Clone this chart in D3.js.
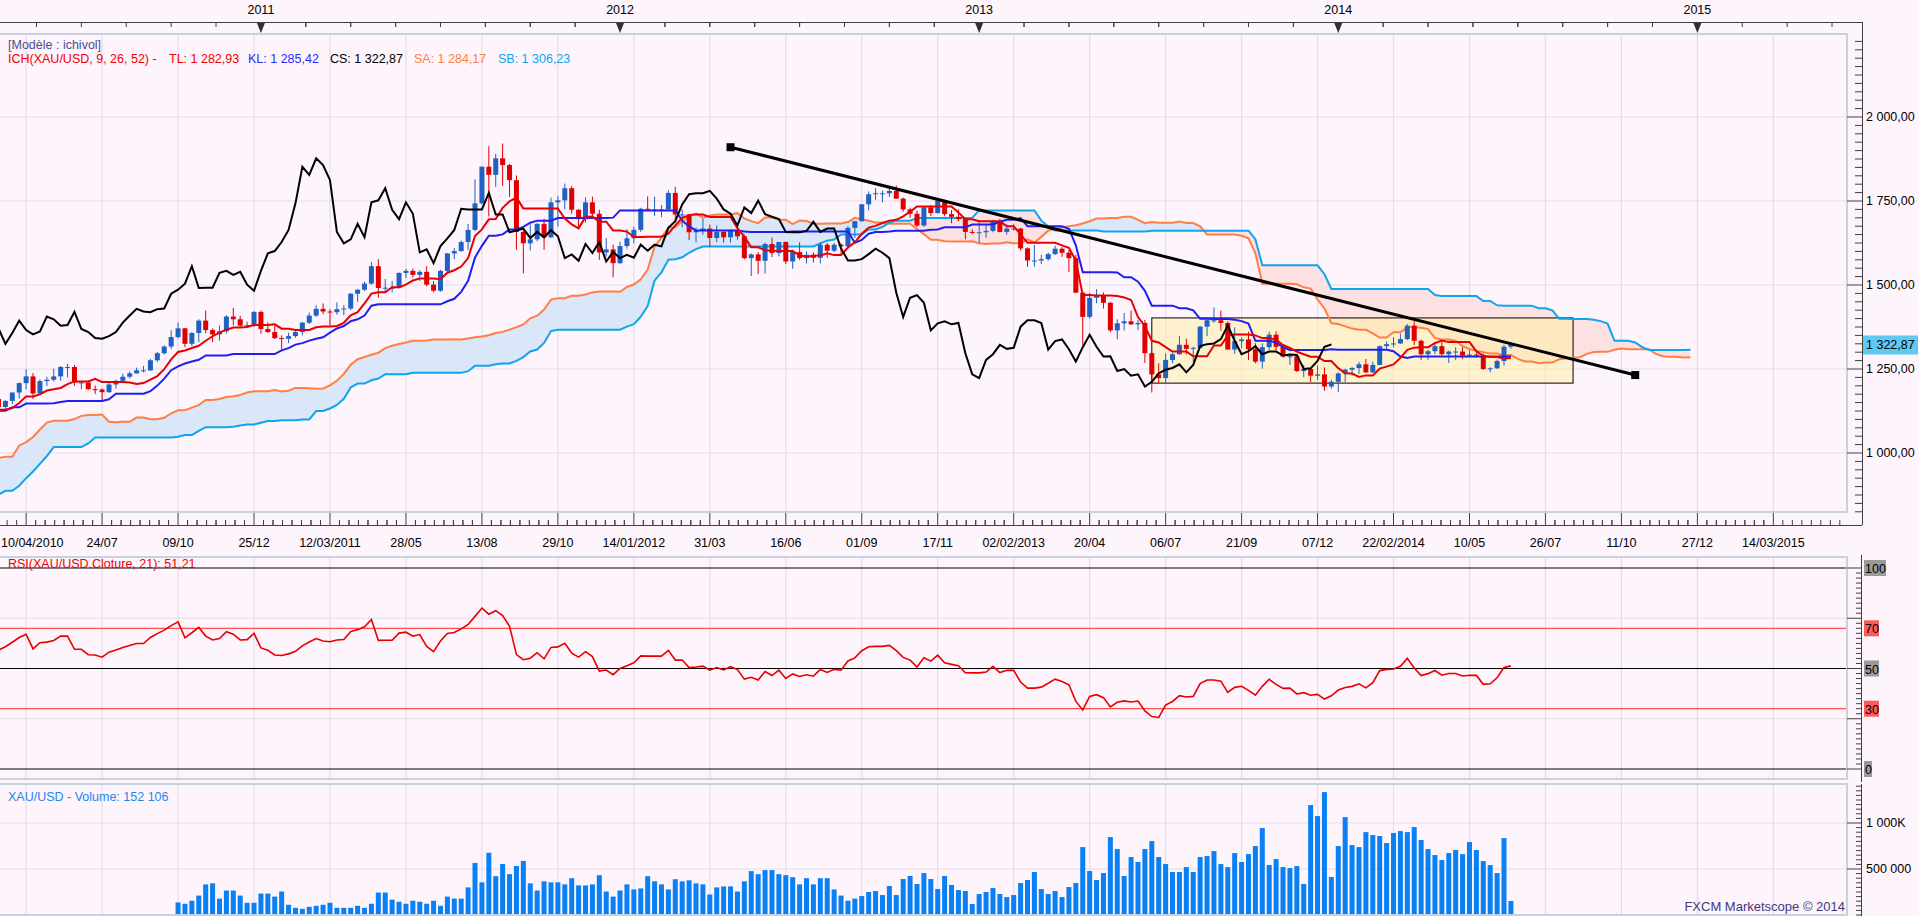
<!DOCTYPE html>
<html>
<head>
<meta charset="utf-8">
<script src="https://cdn.jsdelivr.net/npm/d3@7"></script>
<style>
  html, body { margin: 0; padding: 0; background: #fdf4fc; }
  svg { display: block; font-family: "Liberation Sans", Arial, sans-serif; }
</style>
</head>
<body>
<svg id="chart" width="1919" height="916"></svg>
<script>
// weekly XAU/USD candles [open, high, low, close], first bar 10/04/2010
const candles = [
  // 2010
  [1161,1169,1133,1137],[1137,1157,1128,1155],[1155,1180,1145,1180],[1180,1210,1162,1208],[1208,1249,1190,1228],
  [1228,1238,1161,1177],[1177,1219,1176,1214],[1214,1227,1199,1218],[1218,1251,1213,1228],[1228,1259,1215,1256],
  [1256,1265,1225,1256],[1256,1262,1200,1210],[1210,1214,1190,1210],[1210,1215,1188,1190],[1190,1201,1176,1189],
  [1189,1192,1157,1181],[1181,1211,1179,1204],[1204,1218,1192,1215],[1215,1236,1213,1227],[1227,1243,1222,1237],
  [1237,1254,1237,1246],[1246,1259,1240,1246],[1246,1280,1244,1276],[1276,1301,1271,1297],[1297,1320,1293,1317],
  [1317,1365,1310,1345],[1345,1388,1341,1371],[1371,1372,1315,1325],[1325,1360,1318,1357],[1357,1398,1330,1394],
  [1394,1424,1356,1366],[1366,1371,1330,1353],[1353,1380,1334,1362],[1362,1410,1356,1406],[1406,1432,1380,1398],
  [1398,1408,1375,1379],[1379,1391,1373,1381],[1381,1422,1376,1420],
  // 2011
  [1420,1424,1355,1369],[1369,1389,1357,1360],[1360,1378,1339,1342],[1342,1350,1308,1340],[1340,1358,1327,1348],
  [1348,1366,1343,1360],[1360,1389,1350,1388],[1388,1418,1384,1409],[1409,1440,1405,1429],[1429,1445,1413,1421],
  [1421,1428,1380,1419],[1419,1448,1412,1428],[1428,1440,1410,1430],[1430,1476,1425,1474],[1474,1488,1450,1486],
  [1486,1510,1482,1504],[1504,1569,1501,1556],[1556,1577,1462,1491],[1491,1518,1480,1492],[1492,1512,1478,1492],
  [1492,1537,1490,1536],[1536,1548,1521,1542],[1542,1549,1522,1530],[1530,1544,1512,1539],[1539,1556,1496,1501],
  [1501,1512,1478,1483],[1483,1545,1480,1542],[1542,1595,1538,1594],[1594,1610,1577,1601],[1601,1632,1599,1628],
  [1628,1682,1604,1664],[1664,1814,1660,1743],[1743,1853,1740,1852],[1852,1913,1704,1828],[1828,1890,1792,1877],
  [1877,1921,1795,1857],[1857,1860,1762,1812],[1812,1826,1605,1658],[1658,1668,1535,1624],[1624,1681,1603,1636],
  [1636,1684,1630,1682],[1682,1697,1605,1642],[1642,1760,1640,1746],[1746,1764,1674,1752],[1752,1802,1725,1788],
  [1788,1795,1712,1724],[1724,1725,1669,1696],[1696,1761,1686,1746],[1746,1763,1703,1712],[1712,1724,1575,1597],
  [1597,1640,1585,1606],[1606,1620,1523,1565],
  // 2012
  [1565,1629,1563,1616],[1616,1666,1608,1639],[1639,1673,1624,1664],[1664,1730,1658,1727],[1727,1764,1720,1725],
  [1725,1763,1705,1725],[1725,1738,1702,1725],[1725,1782,1724,1774],[1774,1792,1688,1710],[1710,1725,1672,1710],
  [1710,1712,1634,1657],[1657,1671,1627,1662],[1662,1697,1650,1668],[1668,1680,1613,1640],[1640,1677,1628,1658],
  [1658,1660,1626,1642],[1642,1665,1626,1663],[1663,1675,1635,1645],[1645,1650,1576,1580],[1580,1594,1527,1591],
  [1591,1598,1533,1572],[1572,1626,1534,1622],[1622,1641,1583,1595],[1595,1628,1585,1628],[1628,1630,1562,1570],
  [1570,1605,1548,1598],[1598,1627,1575,1580],[1580,1600,1564,1590],[1590,1597,1567,1581],[1581,1627,1564,1620],
  [1620,1625,1581,1602],[1602,1625,1598,1620],[1620,1624,1592,1615],[1615,1675,1613,1670],[1670,1690,1640,1690],
  [1690,1741,1688,1740],[1740,1778,1722,1770],[1770,1788,1754,1773],[1773,1781,1746,1773],[1773,1791,1762,1780],
  [1780,1796,1756,1757],[1757,1760,1718,1725],[1725,1730,1700,1712],[1712,1721,1672,1677],[1677,1733,1673,1731],
  [1731,1738,1705,1714],[1714,1755,1713,1751],[1751,1754,1705,1711],[1711,1723,1684,1703],[1703,1725,1690,1696],
  [1696,1699,1636,1658],[1658,1666,1651,1657],
  // 2013
  [1657,1693,1625,1657],[1657,1679,1641,1661],[1661,1694,1657,1688],[1688,1697,1657,1658],[1658,1680,1650,1668],
  [1668,1682,1662,1668],[1668,1669,1602,1609],[1609,1612,1554,1573],[1573,1619,1555,1573],[1573,1590,1562,1577],
  [1577,1596,1572,1592],[1592,1617,1589,1608],[1608,1613,1584,1596],[1596,1605,1539,1580],[1580,1590,1476,1477],
  [1477,1480,1321,1405],[1405,1477,1400,1462],[1462,1488,1446,1470],[1470,1478,1430,1447],[1447,1450,1359,1365],
  [1365,1398,1338,1386],[1386,1417,1365,1392],[1392,1424,1381,1383],[1383,1396,1366,1387],[1387,1396,1268,1297],
  [1297,1300,1180,1234],[1234,1267,1207,1223],[1223,1297,1207,1277],[1277,1298,1267,1294],[1294,1348,1292,1322],
  [1322,1340,1293,1310],[1310,1316,1272,1313],[1313,1378,1310,1376],[1376,1396,1348,1395],[1395,1433,1388,1395],
  [1395,1424,1364,1387],[1387,1392,1307,1308],[1308,1374,1295,1333],[1333,1344,1311,1338],[1338,1361,1277,1309],
  [1309,1327,1267,1272],[1272,1326,1251,1315],[1315,1361,1307,1352],[1352,1362,1305,1316],[1316,1323,1284,1287],
  [1287,1293,1262,1288],[1288,1291,1241,1244],[1244,1262,1226,1250],[1250,1254,1211,1230],[1230,1261,1217,1234],
  [1234,1255,1185,1198],[1198,1218,1191,1212],
  // 2014
  [1212,1240,1182,1237],[1237,1251,1211,1248],[1248,1256,1230,1253],[1253,1271,1235,1264],[1264,1280,1238,1240],
  [1240,1272,1238,1262],[1262,1320,1262,1318],[1318,1332,1308,1324],[1324,1345,1315,1326],[1326,1355,1325,1339],
  [1339,1384,1336,1379],[1379,1392,1321,1334],[1334,1337,1277,1294],[1294,1307,1277,1303],[1303,1331,1294,1318],
  [1318,1331,1291,1294],[1294,1305,1268,1302],[1302,1315,1277,1302],[1302,1315,1280,1290],[1290,1306,1286,1293],
  [1293,1300,1284,1292],[1292,1296,1247,1250],[1250,1255,1240,1252],[1252,1278,1250,1274],[1274,1322,1260,1316],
  [1316,1326,1310,1322.87]
];

// weekly [high, low, close] before the first bar (11/10/2008 .. 03/04/2010), feeds the indicators
const history = [
  [860,782,785],[800,681,734],[775,710,719],[768,705,742],[759,705,745],[800,730,796],[837,790,813],[815,740,752],
  [830,755,823],[880,820,840],[855,830,845],[885,843,879],[880,840,853],[860,808,838],[900,830,895],[935,880,920],
  [925,890,914],[950,905,944],[1007,940,1002],[1002,935,942],[950,910,939],[945,890,929],[960,905,955],[960,915,922],
  [930,880,898],[900,865,870],[895,865,870],[915,870,912],[915,880,888],[920,880,915],[935,910,930],[960,925,956],
  [985,945,979],[990,950,961],[960,930,942],[945,920,920],[945,918,940],[945,920,930],[935,905,913],[940,915,937],
  [960,935,953],[960,925,952],[970,950,958],[958,935,946],[950,930,943],[960,940,954],[1000,935,996],[1012,990,1007],
  [1025,995,1003],[1015,985,992],[1020,985,1003],[1063,1003,1050],[1070,1040,1052],[1070,1040,1057],[1050,1025,1045],
  [1100,1045,1095],[1120,1100,1118],[1150,1110,1145],[1195,1140,1175],[1227,1160,1162],[1170,1115,1118],
  [1150,1095,1105],[1110,1073,1106],[1110,1085,1096],[1140,1092,1137],[1165,1120,1130],[1140,1085,1090],
  [1105,1076,1084],[1125,1045,1052],[1093,1055,1092],[1126,1092,1107],[1120,1088,1118],[1145,1115,1134],
  [1138,1095,1103],[1135,1098,1106],[1110,1088,1104],[1130,1100,1126],[1166,1123,1161]
];

// weekly volume in thousands (no volume reported for the first 26 weeks)
const volume = [
  null,null,null,null,null,null,null,null,null,null,null,null,null,null,null,null,null,null,null,null,null,null,null,null,null,null,
  137,122,155,211,333,344,178,266,266,211,133,133,233,233,200,255,111,78,67,89,
  100,111,133,78,78,78,100,78,122,244,244,167,144,122,155,144,122,155,100,200,
  178,178,300,566,355,677,422,555,444,533,588,344,266,366,355,355,333,400,322,322,
  333,433,255,200,266,333,278,289,422,366,333,278,389,366,377,344,333,222,300,311,
  311,255,366,477,444,488,488,444,433,411,333,400,333,400,400,278,211,155,178,
  206,250,261,217,315,217,391,424,337,456,391,282,424,326,271,261,119,228,250,293,
  228,195,217,348,380,467,282,228,261,195,304,348,738,478,380,456,847,717,424,630,
  576,717,804,630,554,467,467,521,467,630,641,695,554,521,673,576,662,749,945,543,
  608,521,510,532,337,1195,1075,1336,413,749,1064,760,738,901,869,858,782,891,912,901,
  956,815,717,652,597,673,706,662,793,706,586,543,456,836,152
];

const dateLabels = ["10/04/2010","24/07","09/10","25/12","12/03/2011","28/05","13/08","29/10","14/01/2012",
  "31/03","16/06","01/09","17/11","02/02/2013","20/04","06/07","21/09","07/12","22/02/2014","10/05","26/07",
  "11/10","27/12","14/03/2015"];
const yearLabels = ["2011","2012","2013","2014","2015"];
const yearWeeks = [38, 90, 142, 194, 246];
const priceTicks = [1000, 1250, 1500, 1750, 2000];
const rsiLevels = [100, 70, 50, 30, 0];

// drawn annotations: trend line and consolidation box (week index, price)
const trendPoints = [[106, 1910], [237, 1232]];
const boxWeeks = [167, 228];
const boxPrices = [1208, 1402];
const lastPrice = 1322.87;

// ---------------------------------------------------------------
const svg = d3.select('#chart');
const plotR = 1847, axisX = 1862;
const P1 = {top: 34, bottom: 512};
const P2 = {top: 557, bottom: 779};
const P3 = {top: 784, bottom: 915};
const fs = 12.5;

const x = d3.scaleLinear().domain([0, 257]).range([-1.5, -1.5 + 257 * 6.906]);
const yP = d3.scaleLinear().domain([1000, 2000]).range([453, 117]);
const yR = d3.scaleLinear().domain([0, 100]).range([769, 568]);
const yV = d3.scaleLinear().domain([0, 1000]).range([915, 823]);

const gridCol = '#e3dee6', frameCol = '#c8d2de', axisCol = '#404040';
const gridWeeks = d3.range(4, 258, 11);

// indicators
const H = history.length;
const hi = history.map(d => d[0]).concat(candles.map(d => d[1]));
const lo = history.map(d => d[1]).concat(candles.map(d => d[2]));
const cl = history.map(d => d[2]).concat(candles.map(d => d[3]));
const mid = (j, n) => (d3.max(hi.slice(j - n + 1, j + 1)) + d3.min(lo.slice(j - n + 1, j + 1))) / 2;

const tenkan = candles.map((d, i) => ({i, v: mid(i + H, 9)}));
const kijun = candles.map((d, i) => ({i, v: mid(i + H, 26)}));
const cloud = d3.range(-26, candles.length).map(i => {
  const j = i + H;
  return {i: i + 26, a: (mid(j, 9) + mid(j, 26)) / 2, b: mid(j, 52)};
});
const chikou = candles.map((d, i) => ({i: i - 26, v: d[3]})).filter(d => d.i >= -1);

const rsi = [];
(function () {
  const n = 21;
  let ag = 0, al = 0;
  for (let k = 1; k <= n; k++) {
    const df = cl[k] - cl[k - 1];
    if (df > 0) ag += df; else al -= df;
  }
  ag /= n; al /= n;
  for (let k = n + 1; k < cl.length; k++) {
    const df = cl[k] - cl[k - 1];
    ag = (ag * (n - 1) + Math.max(df, 0)) / n;
    al = (al * (n - 1) + Math.max(-df, 0)) / n;
    if (k >= H) rsi.push({i: k - H, v: 100 - 100 / (1 + ag / al)});
  }
})();

// ---------------------------------------------------------------
const defs = svg.append('defs');
function clipRect(id, p) {
  defs.append('clipPath').attr('id', id).append('rect')
    .attr('x', 0).attr('y', p.top).attr('width', plotR).attr('height', p.bottom - p.top);
}
clipRect('c1', P1); clipRect('c2', P2); clipRect('c3', P3);

// grids
[P1, P2, P3].forEach(p => {
  svg.append('g').selectAll('line').data(gridWeeks.filter(w => x(w) < plotR)).join('line')
    .attr('x1', d => x(d)).attr('x2', d => x(d))
    .attr('y1', p.top).attr('y2', p.bottom)
    .attr('stroke', gridCol).attr('stroke-width', 1.2);
});
svg.append('g').selectAll('line').data(priceTicks).join('line')
  .attr('x1', 0).attr('x2', plotR).attr('y1', d => yP(d)).attr('y2', d => yP(d))
  .attr('stroke', gridCol).attr('stroke-width', 1.2);
svg.append('g').selectAll('line').data([75, 25]).join('line')
  .attr('x1', 0).attr('x2', plotR).attr('y1', d => yR(d)).attr('y2', d => yR(d))
  .attr('stroke', gridCol).attr('stroke-width', 1.2);
svg.append('g').selectAll('line').data([500, 1000]).join('line')
  .attr('x1', 0).attr('x2', plotR).attr('y1', d => yV(d)).attr('y2', d => yV(d))
  .attr('stroke', gridCol).attr('stroke-width', 1.2);

// ---------------- price panel ----------------
const g1 = svg.append('g').attr('clip-path', 'url(#c1)');

defs.append('clipPath').attr('id', 'underA').append('path')
  .attr('d', d3.area().x(d => x(d.i)).y0(d => yP(d.a)).y1(700)(cloud));
defs.append('clipPath').attr('id', 'underB').append('path')
  .attr('d', d3.area().x(d => x(d.i)).y0(d => yP(d.b)).y1(700)(cloud));
g1.append('path').attr('clip-path', 'url(#underA)')
  .attr('d', d3.area().x(d => x(d.i)).y0(0).y1(d => yP(d.b))(cloud))
  .attr('fill', '#d9e7f8');
g1.append('path').attr('clip-path', 'url(#underB)')
  .attr('d', d3.area().x(d => x(d.i)).y0(0).y1(d => yP(d.a))(cloud))
  .attr('fill', '#fde0e2');

// consolidation box
g1.append('rect')
  .attr('x', x(boxWeeks[0])).attr('width', x(boxWeeks[1]) - x(boxWeeks[0]))
  .attr('y', yP(boxPrices[1])).attr('height', yP(boxPrices[0]) - yP(boxPrices[1]))
  .attr('fill', '#fff0a0').attr('fill-opacity', 0.5)
  .attr('stroke', '#000').attr('stroke-width', 1);

const line = d3.line().x(d => x(d.i)).y(d => yP(d.v));
g1.append('path').datum(cloud.map(d => ({i: d.i, v: d.a}))).attr('d', line)
  .attr('fill', 'none').attr('stroke', '#ff7f45').attr('stroke-width', 2);
g1.append('path').datum(cloud.map(d => ({i: d.i, v: d.b}))).attr('d', line)
  .attr('fill', 'none').attr('stroke', '#0ea5ec').attr('stroke-width', 2);

// candles
const upCol = '#1f62c4', dnCol = '#e00000';
const cg = g1.append('g');
cg.selectAll('line').data(candles).join('line')
  .attr('x1', (d, i) => x(i)).attr('x2', (d, i) => x(i))
  .attr('y1', d => yP(d[1])).attr('y2', d => yP(d[2]))
  .attr('stroke', d => d[3] >= d[0] ? upCol : dnCol).attr('stroke-width', 1);
cg.selectAll('rect').data(candles).join('rect')
  .attr('x', (d, i) => x(i) - 2.5).attr('width', 5)
  .attr('y', d => yP(Math.max(d[0], d[3])))
  .attr('height', d => Math.max(1, Math.abs(yP(d[0]) - yP(d[3]))))
  .attr('fill', d => d[3] >= d[0] ? upCol : dnCol);

g1.append('path').datum(kijun).attr('d', line)
  .attr('fill', 'none').attr('stroke', '#1f1ff0').attr('stroke-width', 2);
g1.append('path').datum(tenkan).attr('d', line)
  .attr('fill', 'none').attr('stroke', '#e80000').attr('stroke-width', 2);
g1.append('path').datum(chikou).attr('d', line)
  .attr('fill', 'none').attr('stroke', '#000').attr('stroke-width', 2);

// trend line
g1.append('line')
  .attr('x1', x(trendPoints[0][0])).attr('y1', yP(trendPoints[0][1]))
  .attr('x2', x(trendPoints[1][0])).attr('y2', yP(trendPoints[1][1]))
  .attr('stroke', '#000').attr('stroke-width', 3);
g1.selectAll('.tp').data(trendPoints).join('rect')
  .attr('x', d => x(d[0]) - 4).attr('y', d => yP(d[1]) - 4)
  .attr('width', 8).attr('height', 8).attr('fill', '#000');

// ---------------- RSI panel ----------------
const g2 = svg.append('g').attr('clip-path', 'url(#c2)');
g2.selectAll('line').data(rsiLevels).join('line')
  .attr('x1', 0).attr('x2', plotR).attr('y1', d => yR(d)).attr('y2', d => yR(d))
  .attr('stroke', d => (d === 70 || d === 30) ? '#ff5050' : '#000').attr('stroke-width', 1.2);
g2.append('path').datum(rsi)
  .attr('d', d3.line().x(d => x(d.i)).y(d => yR(d.v)))
  .attr('fill', 'none').attr('stroke', '#e80000').attr('stroke-width', 1.6);

// ---------------- volume panel ----------------
const g3 = svg.append('g').attr('clip-path', 'url(#c3)');
g3.selectAll('rect').data(volume.map((v, i) => ({i, v})).filter(d => d.v != null)).join('rect')
  .attr('x', d => x(d.i) - 2.5).attr('width', 5)
  .attr('y', d => yV(d.v)).attr('height', d => yV(0) - yV(d.v))
  .attr('fill', '#0a80f5');

// ---------------- frames ----------------
[P1, P2, P3].forEach(p => {
  svg.append('path')
    .attr('d', `M0,${p.top}H${plotR}V${p.bottom}H0`)
    .attr('fill', 'none').attr('stroke', frameCol).attr('stroke-width', 2);
});

// ---------------- axes ----------------
const ax = svg.append('g').attr('stroke', axisCol).attr('stroke-width', 1);
// top time axis
ax.append('line').attr('x1', 0).attr('x2', axisX).attr('y1', 22.5).attr('y2', 22.5);
const topTicks = [];
yearWeeks.forEach(w => { for (let k = -8; k < 8; k++) topTicks.push(w + k * 6.5); });
ax.selectAll('.tt').data(topTicks.filter(w => x(w) > 0 && x(w) < axisX)).join('line')
  .attr('x1', d => x(d)).attr('x2', d => x(d)).attr('y1', 22).attr('y2', 27);
svg.append('g').selectAll('path').data(yearWeeks).join('path')
  .attr('d', d => `M${x(d) - 4},23H${x(d) + 4}L${x(d)},33Z`).attr('fill', '#303030');
svg.append('g').selectAll('text').data(yearLabels).join('text')
  .attr('x', (d, k) => x(yearWeeks[k])).attr('y', 14).attr('text-anchor', 'middle')
  .attr('font-size', fs).attr('fill', '#000').text(d => d);

// bottom date axis
ax.append('line').attr('x1', 0).attr('x2', axisX).attr('y1', 525.5).attr('y2', 525.5);
const minorWeeks = [];
gridWeeks.forEach(w => { for (let k = -7; k < 8; k++) minorWeeks.push(w + k * 11 / 8); });
ax.selectAll('.bt').data(minorWeeks.filter(w => x(w) > 0 && x(w) < axisX)).join('line')
  .attr('x1', d => x(d)).attr('x2', d => x(d))
  .attr('y1', d => gridWeeks.includes(d) ? 513 : 520).attr('y2', 525);
const labelWeeks = [0].concat(d3.range(15, 258, 11));
svg.append('g').selectAll('text').data(dateLabels).join('text')
  .attr('x', (d, k) => k === 0 ? 1 : x(labelWeeks[k]))
  .attr('y', 547).attr('text-anchor', (d, k) => k === 0 ? 'start' : 'middle')
  .attr('font-size', fs).attr('fill', '#000').text(d => d);

// price axis
const fmtPrice = v => d3.format(',.2f')(v).replace(',', ' ').replace('.', ',');
ax.append('line').attr('x1', axisX + 0.5).attr('x2', axisX + 0.5).attr('y1', 22).attr('y2', 525);
ax.selectAll('.pt').data(d3.range(825, 2250, 25)).join('line')
  .attr('x1', d => d % 250 === 0 ? plotR : axisX - 7).attr('x2', axisX)
  .attr('y1', d => yP(d)).attr('y2', d => yP(d));
svg.append('g').selectAll('text').data(priceTicks).join('text')
  .attr('x', axisX + 4).attr('y', d => yP(d) + 4).attr('font-size', fs).attr('fill', '#000')
  .text(fmtPrice);
const lp = svg.append('g');
lp.append('rect').attr('x', axisX + 1).attr('y', yP(lastPrice) - 9).attr('width', 55).attr('height', 19)
  .attr('fill', '#5ec9f3');
lp.append('text').attr('x', axisX + 4).attr('y', yP(lastPrice) + 4).attr('font-size', fs).attr('fill', '#000')
  .text(fmtPrice(lastPrice));

// rsi axis
ax.append('line').attr('x1', axisX - 0.5).attr('x2', axisX - 0.5).attr('y1', 555).attr('y2', 782);
ax.selectAll('.rt').data(d3.range(0, 102.5, 2.5)).join('line')
  .attr('x1', d => d % 25 === 0 ? plotR : axisX - 6).attr('x2', axisX)
  .attr('y1', d => yR(d)).attr('y2', d => yR(d));
const rl = svg.append('g');
rl.selectAll('rect').data(rsiLevels).join('rect')
  .attr('x', axisX + 2).attr('y', d => yR(d) - 8).attr('height', 16)
  .attr('width', d => String(d).length * 7 + 1)
  .attr('fill', d => (d === 70 || d === 30) ? '#ff5a5a' : '#9a9a9a');
rl.selectAll('text').data(rsiLevels).join('text')
  .attr('x', axisX + 3).attr('y', d => yR(d) + 5).attr('font-size', fs).attr('fill', '#000').text(d => d);

// volume axis
ax.append('line').attr('x1', axisX - 0.5).attr('x2', axisX - 0.5).attr('y1', 784).attr('y2', 916);
ax.selectAll('.vt').data(d3.range(0, 1450, 50)).join('line')
  .attr('x1', d => d % 500 === 0 && d > 0 ? plotR : axisX - 6).attr('x2', axisX)
  .attr('y1', d => yV(d)).attr('y2', d => yV(d));
svg.append('g').selectAll('text').data([[1000, '1 000K'], [500, '500 000']]).join('text')
  .attr('x', axisX + 4).attr('y', d => yV(d[0]) + 4).attr('font-size', fs).attr('fill', '#000').text(d => d[1]);

// ---------------- legends ----------------
svg.append('text').attr('x', 8).attr('y', 49).attr('font-size', fs).attr('fill', '#4d4d8c')
  .text('[Modèle : ichivol]');
const leg = svg.append('text').attr('y', 63).attr('font-size', fs);
[[8, '#ee0000', 'ICH(XAU/USD, 9, 26, 52) -'], [169, '#ee0000', 'TL: 1 282,93'],
 [248, '#2b2bff', 'KL: 1 285,42'], [330, '#000000', 'CS: 1 322,87'],
 [414, '#ff7f45', 'SA: 1 284,17'], [498, '#14a4ea', 'SB: 1 306,23']].forEach(t => {
  leg.append('tspan').attr('x', t[0]).attr('fill', t[1]).text(t[2]);
});
svg.append('text').attr('x', 8).attr('y', 568).attr('font-size', fs).attr('fill', '#ee0000')
  .text('RSI(XAU/USD.Cloture, 21): 51,21');
svg.append('text').attr('x', 8).attr('y', 801).attr('font-size', fs).attr('fill', '#1f86ea')
  .text('XAU/USD - Volume: 152 106');
svg.append('text').attr('x', 1845).attr('y', 911).attr('text-anchor', 'end').attr('font-size', 13)
  .attr('fill', '#3c3c78').text('FXCM Marketscope © 2014');
</script>
</body>
</html>
